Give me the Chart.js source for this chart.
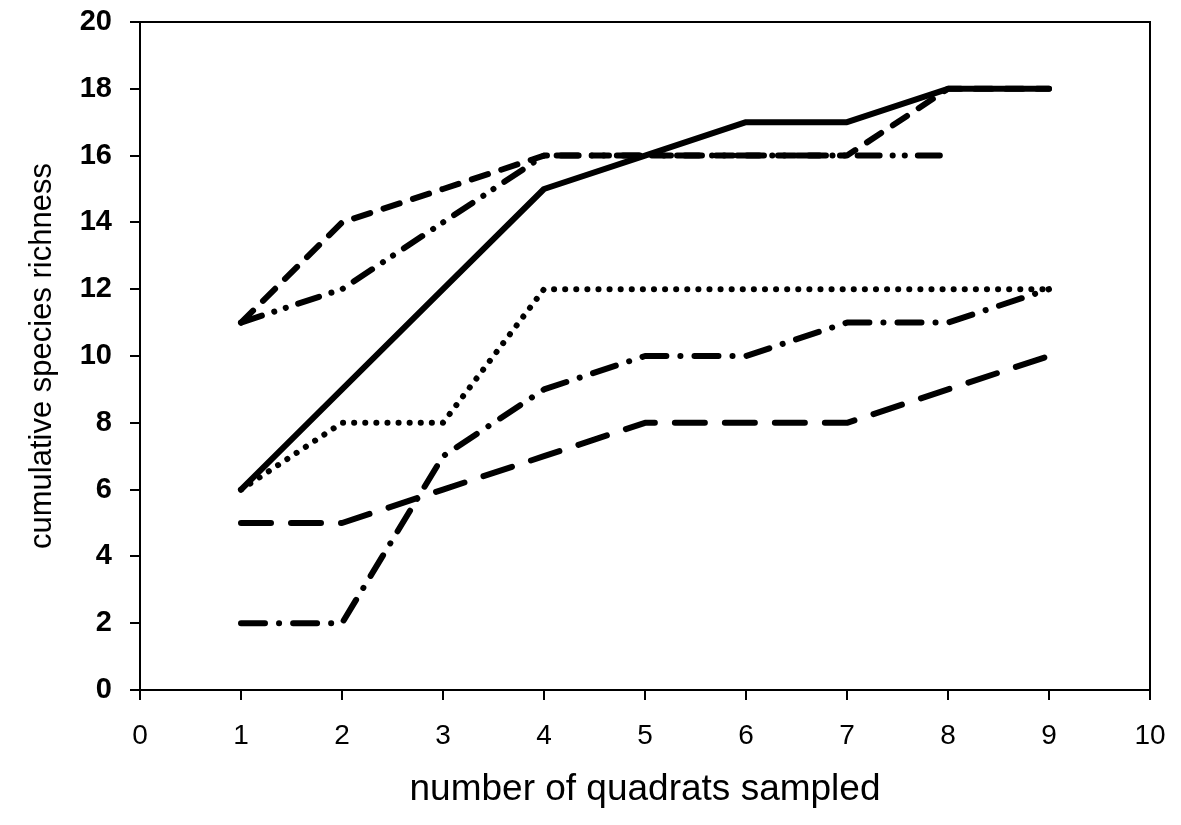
<!DOCTYPE html>
<html lang="en">
<head>
  <meta charset="UTF-8">
  <title>cumulative species richness</title>
  <script src="https://cdn.jsdelivr.net/npm/chart.js"></script>
  <style>
    html, body { margin: 0; padding: 0; background: #fff; }
    #wrap { width: 1181px; height: 825px; }
  </style>
</head>
<body>
  <div id="wrap"><canvas id="curve"></canvas></div>
  <script>
    // number of quadrats sampled
    const quadrats = [1, 2, 3, 4, 5, 6, 7, 8, 9];

    // cumulative species richness, one array per site
    const solid      = [6, 9, 12, 15, 16, 17, 17, 18, 18];
    const dashed     = [11, 14, 15, 16, 16, 16, 16, 18, 18];
    const dashDotDot = [11, 12, 14, 16, 16, 16, 16, 16, null];
    const dotted     = [6, 8, 8, 12, 12, 12, 12, 12, 12];
    const dashDot    = [2, 2, 7, 9, 10, 10, 11, 11, 12];
    const longDash   = [5, 5, 6, 7, 8, 8, 8, 9, 10];

    const xTicks = [0, 1, 2, 3, 4, 5, 6, 7, 8, 9, 10];
    const yTicks = [0, 2, 4, 6, 8, 10, 12, 14, 16, 18, 20];

    function pts(vals) {
      return quadrats.map((q, i) => ({ x: q, y: vals[i] })).filter(p => p.y !== null);
    }

    function line(vals, dash) {
      return {
        data: pts(vals),
        borderColor: '#000',
        borderWidth: 6,
        borderDash: dash,
        borderCapStyle: 'round',
        borderJoinStyle: 'round',
        pointRadius: 0,
        fill: false,
        tension: 0
      };
    }

    // box round the plot area
    const frame = {
      id: 'frame',
      afterDraw(chart) {
        const a = chart.chartArea;
        const ctx = chart.ctx;
        ctx.save();
        ctx.strokeStyle = '#000';
        ctx.lineWidth = 2;
        ctx.strokeRect(a.left, a.top, a.right - a.left, a.bottom - a.top);
        ctx.restore();
      }
    };

    new Chart(document.getElementById('curve'), {
      type: 'line',
      data: {
        datasets: [
          line(longDash, [30, 20]),
          line(dashDot, [24, 14, 0.1, 14]),
          line(dotted, [0.1, 11]),
          line(dashDotDot, [22, 13, 0.1, 12, 0.1, 13]),
          line(dashed, [17, 14]),
          line(solid, [])
        ]
      },
      options: {
        responsive: true,
        maintainAspectRatio: false,
        animation: false,
        layout: { padding: { top: 22, right: 31, left: 0, bottom: 0 } },
        plugins: { legend: { display: false }, tooltip: { enabled: false } },
        scales: {
          x: {
            type: 'linear',
            min: 0, max: 10,
            afterBuildTicks(ax) { ax.ticks = xTicks.map(v => ({ value: v })); },
            afterFit(ax) { ax.height = 135; ax.paddingLeft = 0; ax.paddingRight = 0; },
            grid: { drawOnChartArea: false, tickLength: 10, color: '#000', lineWidth: 2 },
            border: { color: '#000', width: 2 },
            ticks: { color: '#000', padding: 19, font: { family: 'Liberation Sans', size: 28 } },
            title: {
              display: true,
              text: 'number of quadrats sampled',
              color: '#000',
              padding: { top: 0, bottom: 13 },
              font: { family: 'Liberation Sans', size: 37 }
            }
          },
          y: {
            min: 0, max: 20,
            afterBuildTicks(ax) { ax.ticks = yTicks.map(v => ({ value: v })); },
            afterFit(ax) { ax.width = 140; ax.paddingTop = 0; ax.paddingBottom = 0; },
            grid: { drawOnChartArea: false, tickLength: 10, color: '#000', lineWidth: 2 },
            border: { color: '#000', width: 2 },
            ticks: { color: '#000', padding: 18, font: { family: 'Liberation Sans', size: 29, weight: 'bold' } },
            title: {
              display: true,
              text: 'cumulative species richness',
              color: '#000',
              padding: { top: 24, bottom: 0 },
              font: { family: 'Liberation Sans', size: 31 }
            }
          }
        }
      },
      plugins: [frame]
    });
  </script>
</body>
</html>
